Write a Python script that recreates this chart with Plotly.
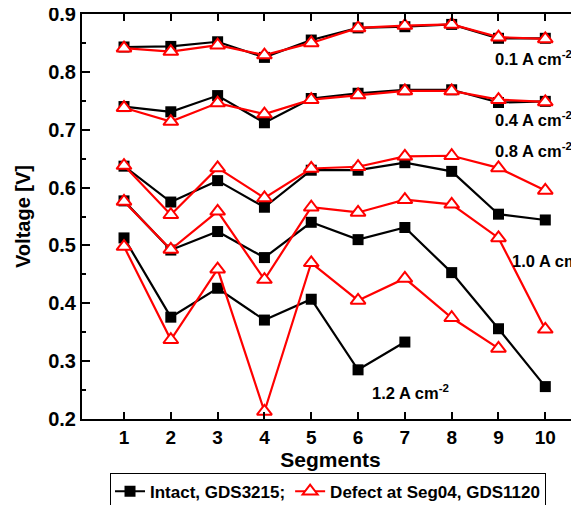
import plotly.graph_objects as go

segments = [1, 2, 3, 4, 5, 6, 7, 8, 9, 10]
seg_ticktext = ["<b>%d</b>" % s for s in segments]
y_tickvals = [0.2, 0.3, 0.4, 0.5, 0.6, 0.7, 0.8, 0.9]
y_ticktext = ["<b>0.2</b>", "<b>0.3</b>", "<b>0.4</b>", "<b>0.5</b>",
              "<b>0.6</b>", "<b>0.7</b>", "<b>0.8</b>", "<b>0.9</b>"]

# Intact, GDS3215
intact_01 = [0.843, 0.844, 0.852, 0.825, 0.855, 0.876, 0.878, 0.882, 0.858, 0.858]
intact_04 = [0.740, 0.731, 0.759, 0.712, 0.754, 0.763, 0.769, 0.769, 0.747, 0.749]
intact_08 = [0.637, 0.575, 0.612, 0.566, 0.630, 0.630, 0.643, 0.628, 0.554, 0.544]
intact_10 = [0.577, 0.492, 0.524, 0.479, 0.540, 0.510, 0.531, 0.453, 0.356, 0.256]
intact_12 = [0.513, 0.376, 0.426, 0.371, 0.407, 0.285, 0.333, None, None, None]

# Defect at Seg04, GDS1120
defect_01 = [0.841, 0.835, 0.846, 0.829, 0.850, 0.876, 0.880, 0.882, 0.860, 0.857]
defect_04 = [0.738, 0.714, 0.746, 0.727, 0.752, 0.760, 0.767, 0.767, 0.752, 0.748]
defect_08 = [0.638, 0.553, 0.634, 0.582, 0.633, 0.636, 0.654, 0.655, 0.634, 0.595]
defect_10 = [0.576, 0.493, 0.559, 0.441, 0.566, 0.557, 0.579, 0.571, 0.513, 0.355]
defect_12 = [0.498, 0.337, 0.459, 0.213, 0.470, 0.405, 0.443, 0.375, 0.322, None]

labels = ["0.1 A cm<sup>-2</sup>", "0.4 A cm<sup>-2</sup>", "0.8 A cm<sup>-2</sup>",
          "1.0 A cm<sup>-2</sup>", "1.2 A cm<sup>-2</sup>"]
label_x = [8.88, 8.88, 8.88, 9.25, 6.26]
label_y = [0.824, 0.719, 0.6655, 0.474, 0.2466]

intact_sets = [intact_01, intact_04, intact_08, intact_10, intact_12]
defect_sets = [defect_01, defect_04, defect_08, defect_10, defect_12]

FONT = "Liberation Sans"

fig = go.Figure()
for i, ys in enumerate(intact_sets):
    fig.add_trace(go.Scatter(
        x=segments, y=ys, mode="lines+markers",
        name="<b>Intact, GDS3215;</b>", legendgroup="intact", showlegend=(i == 0),
        line=dict(color="black", width=2.2),
        marker=dict(symbol="square", size=11, color="black"),
        connectgaps=False,
    ))
for i, ys in enumerate(defect_sets):
    fig.add_trace(go.Scatter(
        x=segments, y=ys, mode="lines+markers",
        name="<b>Defect at Seg04, GDS1120</b>", legendgroup="defect", showlegend=(i == 0),
        line=dict(color="#ff0000", width=2.2),
        marker=dict(symbol="triangle-up", size=13, color="white",
                    line=dict(color="#ff0000", width=2)),
        connectgaps=False,
    ))

for t, x, y in zip(labels, label_x, label_y):
    fig.add_annotation(x=x, y=y, text="<b>" + t + "</b>", showarrow=False, xanchor="left",
                       yanchor="middle", font=dict(family=FONT, size=16.5, color="black"))

# page body has an 8px margin, so the figure is drawn from (8, 8)
fig.update_layout(
    width=571, height=497,
    margin=dict(l=74, r=0, t=6, b=86, autoexpand=False),
    paper_bgcolor="white", plot_bgcolor="white",
    font=dict(family=FONT, color="black"),
    showlegend=True,
    legend=dict(orientation="h", x=0.495, xanchor="center",
                yref="container", y=0.065, yanchor="top",
                bordercolor="black", borderwidth=1,
                font=dict(family=FONT, size=17, color="black"),
                itemwidth=30, tracegroupgap=0),
    xaxis=dict(range=[0.1026, 10.72], tickvals=segments, ticktext=seg_ticktext,
               ticks="inside", ticklen=7, tickwidth=2, tickcolor="black",
               showline=True, linewidth=2, linecolor="black", mirror="ticks",
               showgrid=False, zeroline=False, automargin=False,
               tickfont=dict(family=FONT, size=19, color="black"),
               title=dict(text="<b>Segments</b>", standoff=0,
                          font=dict(family=FONT, size=21, color="black"))),
    yaxis=dict(range=[0.2, 0.9], tickvals=y_tickvals, ticktext=y_ticktext,
               ticks="inside", ticklen=8, tickwidth=2, tickcolor="black",
               minor=dict(dtick=0.05, ticks="inside", ticklen=4, tickwidth=2, tickcolor="black"),
               showline=True, linewidth=2, linecolor="black", mirror=False,
               showgrid=False, zeroline=False, automargin=False,
               ticklabeloverflow="allow",
               tickfont=dict(family=FONT, size=20, color="black"),
               title=dict(text="<b>Voltage [V]</b>", standoff=12,
                          font=dict(family=FONT, size=20, color="black"))),
)

fig.write_html("out.html")
